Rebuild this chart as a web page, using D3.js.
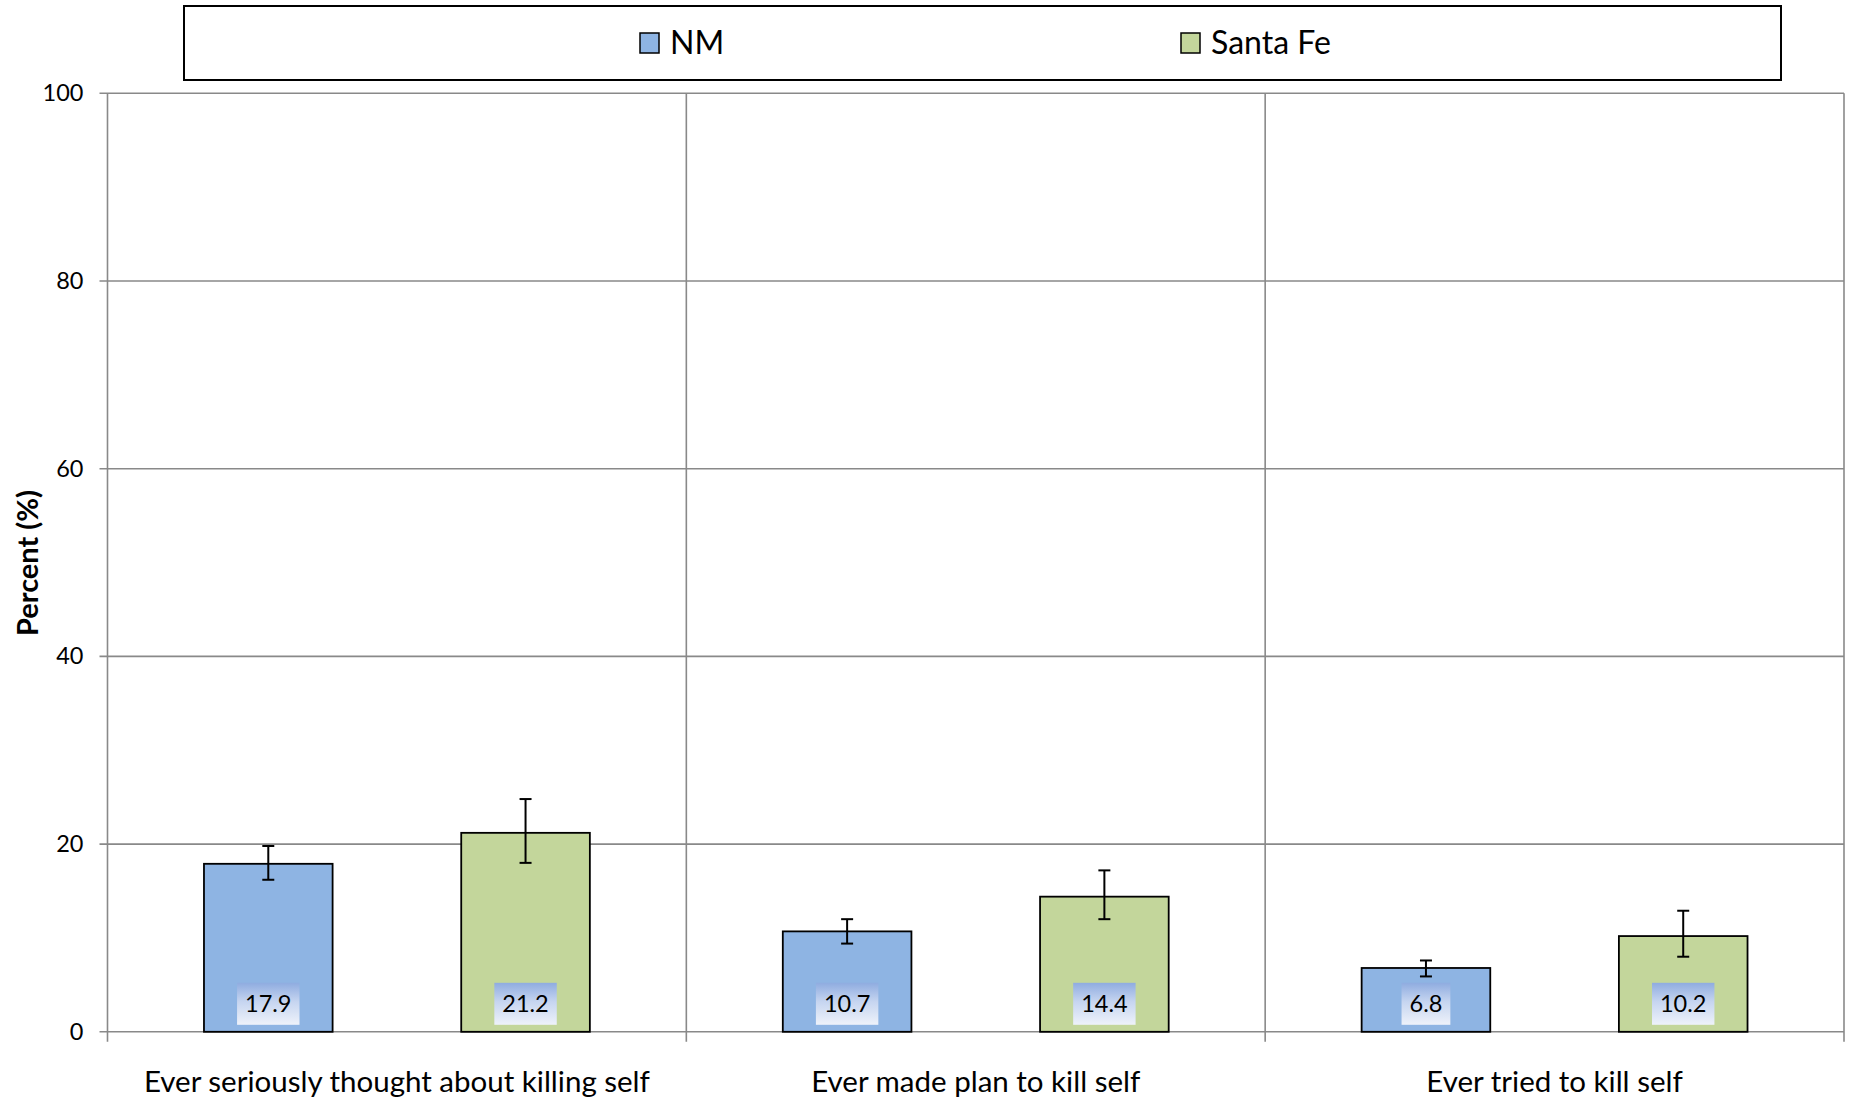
<!DOCTYPE html>
<html>
<head>
<meta charset="utf-8">
<script src="https://cdn.jsdelivr.net/npm/d3@7"></script>
<style>
  html, body { margin: 0; padding: 0; background: #fff; }
  svg { display: block; }
  text { font-family: Lato, "Open Sans", sans-serif; fill: #000; }
</style>
</head>
<body>
<svg id="chart" width="1851" height="1101"></svg>
<script>
// ---- data ----
const categories = ["Ever seriously thought about killing self", "Ever made plan to kill self", "Ever tried to kill self"];
const seriesNames = ["NM", "Santa Fe"];
const nmValues = [17.9, 10.7, 6.8];
const santaFeValues = [21.2, 14.4, 10.2];
const nmLower = [16.2, 9.4, 5.9];
const nmUpper = [19.8, 12.0, 7.6];
const santaFeLower = [18.0, 12.0, 8.0];
const santaFeUpper = [24.8, 17.2, 12.9];
const yTicks = [0, 20, 40, 60, 80, 100];
const yTitle = "Percent (%)";

// ---- styles ----
const colors = { "NM": "#8EB4E3", "Santa Fe": "#C3D69B" };
const gridColor = "#898989";

const svg = d3.select("#chart");
const plot = { left: 107.5, right: 1844, top: 93.3, bottom: 1031.8 };

const rows = [];
categories.forEach((c, i) => {
  rows.push({ cat: c, series: "NM", value: nmValues[i], lo: nmLower[i], hi: nmUpper[i] });
  rows.push({ cat: c, series: "Santa Fe", value: santaFeValues[i], lo: santaFeLower[i], hi: santaFeUpper[i] });
});

const x0 = d3.scaleBand().domain(categories).range([plot.left, plot.right]).padding(0);
const x1 = d3.scaleBand().domain(seriesNames).range([0, x0.bandwidth()]).paddingInner(0.5).paddingOuter(0.375);
const y = d3.scaleLinear().domain([0, 100]).range([plot.bottom, plot.top]);

// defs: gradient for value-label boxes
const defs = svg.append("defs");
const grad = defs.append("linearGradient").attr("id", "lblGrad").attr("x1", 0).attr("y1", 0).attr("x2", 0).attr("y2", 1);
grad.append("stop").attr("offset", "0%").attr("stop-color", "#8FACE0");
grad.append("stop").attr("offset", "45%").attr("stop-color", "#C6D5F0");
grad.append("stop").attr("offset", "100%").attr("stop-color", "#EEF2FA");

// y tick labels
const gy = svg.append("g").attr("transform", `translate(${plot.left},0)`);
gy.call(d3.axisLeft(y).tickValues(yTicks).tickSize(0).tickFormat(d3.format("d")).tickPadding(24));
gy.select(".domain").remove();
gy.selectAll(".tick text").attr("font-size", 23.5).attr("fill", "#000").style("font-family", "Lato, sans-serif");

// horizontal gridlines (with outward tick)
svg.append("g").selectAll("line.hgrid").data(yTicks).join("line")
  .attr("x1", plot.left - 8).attr("x2", plot.right)
  .attr("y1", d => y(d)).attr("y2", d => y(d))
  .attr("stroke", gridColor).attr("stroke-width", 1.6);

// vertical gridlines (category dividers)
const vPositions = categories.map(c => x0(c)).concat([plot.right]);
svg.append("g").selectAll("line.vgrid").data(vPositions).join("line")
  .attr("x1", d => d).attr("x2", d => d)
  .attr("y1", plot.top).attr("y2", plot.bottom + 10)
  .attr("stroke", gridColor).attr("stroke-width", 1.6);

// bars
const barG = svg.append("g");
barG.selectAll("rect.bar").data(rows).join("rect")
  .attr("x", d => x0(d.cat) + x1(d.series))
  .attr("y", d => y(d.value))
  .attr("width", x1.bandwidth())
  .attr("height", d => y(0) - y(d.value))
  .attr("fill", d => colors[d.series])
  .attr("stroke", "#000").attr("stroke-width", 1.8);

// error bars
const capW = 12;
const eg = svg.append("g").attr("stroke", "#000").attr("stroke-width", 2);
rows.forEach(d => {
  const cx = x0(d.cat) + x1(d.series) + x1.bandwidth() / 2;
  eg.append("line").attr("x1", cx).attr("x2", cx).attr("y1", y(d.hi)).attr("y2", y(d.lo));
  eg.append("line").attr("x1", cx - capW / 2).attr("x2", cx + capW / 2).attr("y1", y(d.hi)).attr("y2", y(d.hi));
  eg.append("line").attr("x1", cx - capW / 2).attr("x2", cx + capW / 2).attr("y1", y(d.lo)).attr("y2", y(d.lo));
});

// value labels with gradient boxes
const lg = svg.append("g");
rows.forEach(d => {
  const cx = x0(d.cat) + x1(d.series) + x1.bandwidth() / 2;
  const g = lg.append("g");
  const t = g.append("text").attr("x", cx).attr("y", y(0) - 20).attr("text-anchor", "middle")
    .attr("font-size", 23.5).text(d3.format(".1f")(d.value));
  const bb = t.node().getBBox();
  g.insert("rect", "text")
    .attr("x", cx - bb.width / 2 - 8).attr("y", y(0) - 49)
    .attr("width", bb.width + 16).attr("height", 42)
    .attr("fill", "url(#lblGrad)");
});

// category labels
svg.append("g").selectAll("text.cat").data(categories).join("text")
  .attr("x", d => x0(d) + x0.bandwidth() / 2)
  .attr("y", 1092)
  .attr("text-anchor", "middle")
  .attr("font-size", 29.5)
  .text(d => d);

// y-axis title
svg.append("text")
  .attr("transform", `translate(38,563) rotate(-90)`)
  .attr("text-anchor", "middle")
  .attr("font-size", 29).attr("font-weight", "bold")
  .text(yTitle);

// legend
svg.append("rect").attr("x", 184).attr("y", 6).attr("width", 1597).attr("height", 74)
  .attr("fill", "#fff").attr("stroke", "#000").attr("stroke-width", 2);
const legendX = { "NM": 640, "Santa Fe": 1181 };
const leg = svg.append("g").selectAll("g").data(seriesNames).join("g")
  .attr("transform", d => `translate(${legendX[d]},0)`);
leg.append("rect").attr("x", 0).attr("y", 33).attr("width", 19).attr("height", 20)
  .attr("fill", d => colors[d]).attr("stroke", "#000").attr("stroke-width", 1.5);
leg.append("text").attr("x", 30).attr("y", 54).attr("font-size", 32).text(d => d);
</script>
</body>
</html>
